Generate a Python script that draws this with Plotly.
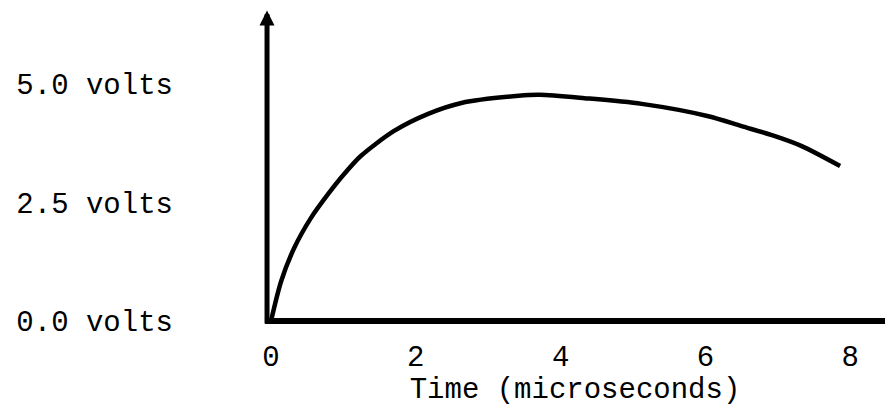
import plotly.graph_objects as go

# Data
time_us = [0, 0.14, 0.32, 0.55, 0.79, 1.01, 1.24, 1.70, 2.17, 2.63, 3.42, 3.71,
           4.33, 5.12, 6.04, 6.50, 6.96, 7.33, 7.86]
volts = [0, 0.84, 1.54, 2.17, 2.68, 3.10, 3.48, 4.01, 4.37, 4.60, 4.75, 4.77,
         4.70, 4.58, 4.32, 4.11, 3.90, 3.69, 3.27]

x_tickvals = [0, 2, 4, 6, 8]
x_ticktext = ["0", "2", "4", "6", "8"]
y_tickvals = [0, 2.5, 5.0]
y_ticktext = ["0.0 volts", "2.5 volts", "5.0 volts"]
x_title = "Time (microseconds)"

X_RANGE = [-0.083, 8.48]
Y_RANGE = [-0.084, 6.56]
Y_AXIS_X = -0.055
Y_ARROW_TOP = 6.55

FONT = dict(family="Liberation Mono, Courier New, monospace", size=29, color="black")

fig = go.Figure()
fig.add_trace(go.Scatter(x=time_us, y=volts, mode="lines",
                         line=dict(color="black", width=4.5, shape="spline", smoothing=0.8),
                         hoverinfo="skip", showlegend=False))

# x axis baseline (runs off the right edge)
fig.add_shape(type="line", xref="paper", yref="y", x0=0, x1=1.03, y0=0, y1=0,
              line=dict(color="black", width=6))
# y axis with arrowhead
fig.add_annotation(x=Y_AXIS_X, y=Y_ARROW_TOP, ax=Y_AXIS_X, ay=Y_RANGE[0],
                   xref="x", yref="y", axref="x", ayref="y", text="",
                   showarrow=True, arrowhead=2, arrowsize=0.6, arrowwidth=5,
                   arrowcolor="black")

fig.update_layout(
    width=885, height=407,
    margin=dict(l=265, r=0, t=10, b=82),
    paper_bgcolor="white", plot_bgcolor="white",
    font=FONT,
    xaxis=dict(range=X_RANGE, tickvals=x_tickvals, ticktext=x_ticktext,
               showgrid=False, zeroline=False, showline=False, ticks="",
               ticklabelstandoff=11, tickfont=FONT,
               title=dict(text=x_title, font=FONT, standoff=0), automargin=False),
    yaxis=dict(range=Y_RANGE, tickvals=y_tickvals, ticktext=y_ticktext,
               showgrid=False, zeroline=False, showline=False, ticks="",
               ticklabelstandoff=91, tickfont=FONT, automargin=False),
)

# remove the browser's default page margin so the figure fills the window exactly
fig.write_html("out.html", config={"displayModeBar": False},
               post_script="document.body.style.margin='0';document.body.style.overflow='hidden';")
